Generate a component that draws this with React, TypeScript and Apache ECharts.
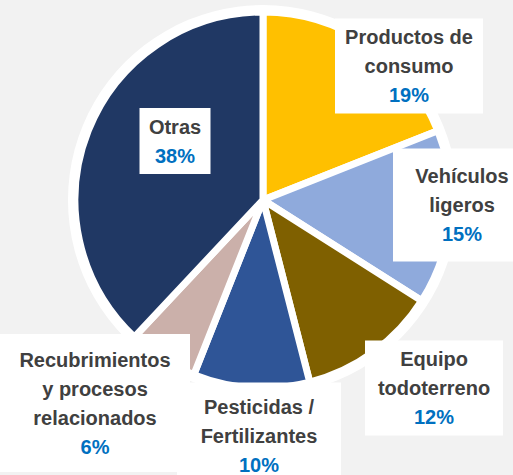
import React, { useEffect, useRef } from "react";
import * as echarts from "echarts";

const categories = [
  "Productos de\nconsumo",
  "Vehículos\nligeros",
  "Equipo\ntodoterreno",
  "Pesticidas /\nFertilizantes",
  "Recubrimientos\ny procesos\nrelacionados",
  "Otras",
];
const values = [19, 15, 12, 10, 6, 38];
const colors = ["#FFC000", "#8FAADC", "#7F6000", "#2F5597", "#CBB0AA", "#203864"];

// label box layout (centre x, centre y, box width, vertical padding)
const labelBoxes = [
  { x: 409, y: 66, w: 148, pv: 4 },
  { x: 462, y: 205, w: 138, pv: 13 },
  { x: 434, y: 388, w: 138, pv: 4 },
  { x: 259, y: 436, w: 164, pv: 10 },
  { x: 95, y: 403, w: 190, pv: 11 },
  { x: 175, y: 141, w: 71, pv: 4 },
];

export default function App() {
  const ref = useRef<HTMLDivElement>(null);
  useEffect(() => {
    if (!ref.current) return;
    const chart = echarts.init(ref.current, undefined, { renderer: "svg" });
    const font = "Liberation Sans";
    chart.setOption({
      animation: false,
      backgroundColor: "#F2F2F2",
      series: [
        {
          type: "pie",
          silent: true,
          center: [263, 200],
          radius: 195,
          startAngle: 90,
          label: { show: false },
          labelLine: { show: false },
          itemStyle: { color: "#FFFFFF" },
          data: [{ value: 1, name: "bg" }],
          z: 1,
        },
        {
          type: "pie",
          center: [263, 200],
          radius: 188,
          startAngle: 90,
          clockwise: true,
          z: 2,
          itemStyle: { borderColor: "#FFFFFF", borderWidth: 7 },
          labelLine: { show: false },
          label: {
            show: true,
            position: "inside",
            backgroundColor: "#FFFFFF",
            formatter: (p: any) => `{n|${p.name}}\n{p|${p.value}%}`,
            rich: {
              n: {
                fontFamily: font,
                fontWeight: "bold",
                fontSize: 20,
                lineHeight: 29,
                color: "#404040",
                align: "center",
              },
              p: {
                fontFamily: font,
                fontWeight: "bold",
                fontSize: 20,
                lineHeight: 29,
                color: "#0070C0",
                align: "center",
              },
            },
          },
          labelLayout: (params: any) => {
            const b = labelBoxes[params.dataIndex];
            return { x: b.x, y: b.y, align: "center", verticalAlign: "middle" };
          },
          data: categories.map((c, i) => ({
            name: c,
            value: values[i],
            itemStyle: { color: colors[i] },
            label: {
              width: labelBoxes[i].w,
              padding: [labelBoxes[i].pv, 0, labelBoxes[i].pv, 0],
            },
          })),
        },
      ],
    });
    return () => chart.dispose();
  }, []);
  return (
    <div
      ref={ref}
      style={{ position: "absolute", left: 0, top: 0, width: 513, height: 475 }}
    />
  );
}
